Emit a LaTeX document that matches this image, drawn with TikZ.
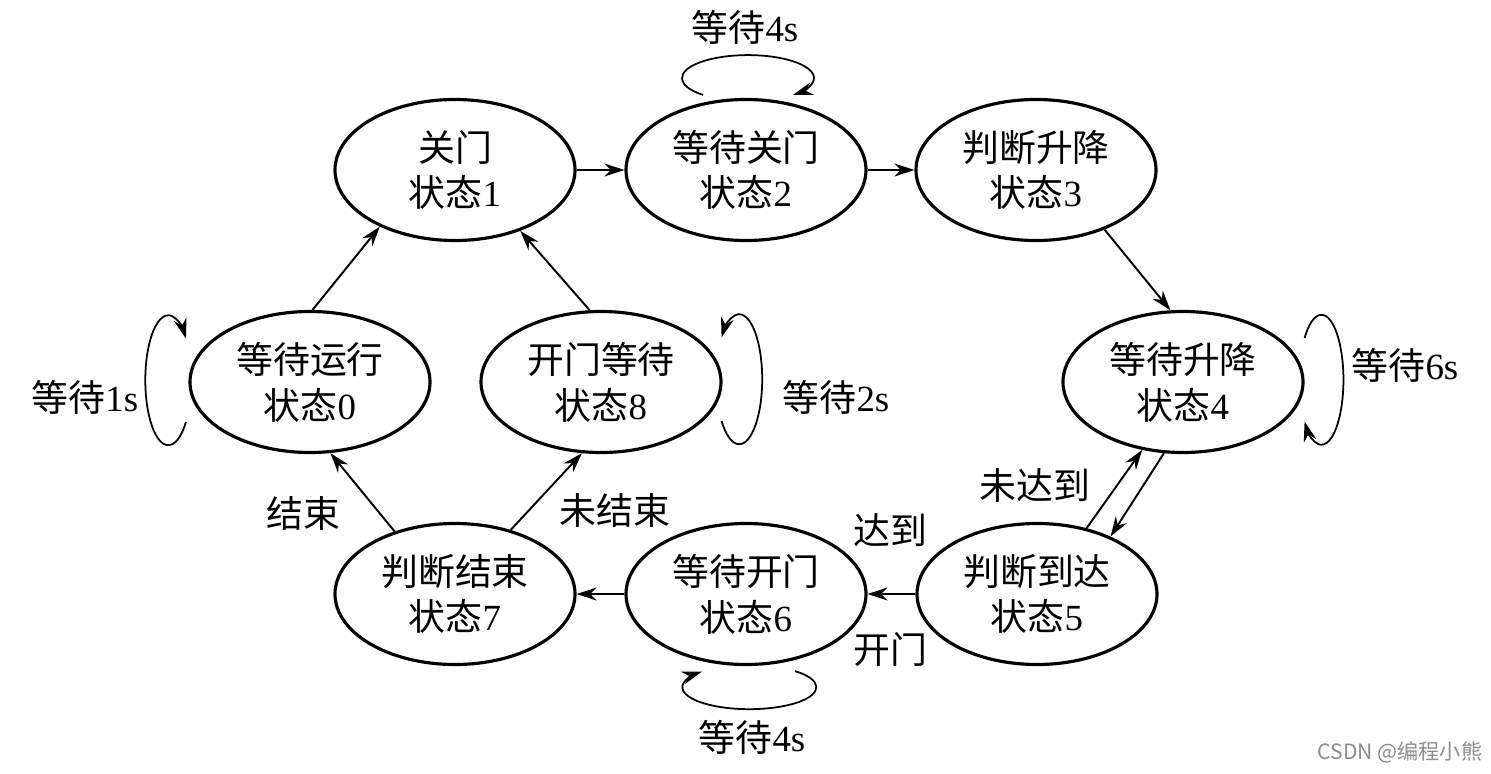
\documentclass[tikz,border=0pt]{standalone}
\usepackage{fontspec}
\setmainfont{Liberation Serif}
\newfontfamily\cjk{Noto Sans CJK SC}
\usetikzlibrary{shapes.geometric,arrows.meta}

\tikzset{
  stnode/.style={draw, ellipse, line width=1.8pt, minimum width=4.8cm, minimum height=2.82cm,
    inner sep=0pt, align=center, font=\fontsize{21}{26}\selectfont},
  lbl/.style={font=\fontsize{21}{26}\selectfont, inner sep=0pt},
  trans/.style={-{Stealth[length=4mm,width=2.6mm]}, line width=1.1pt},
  waitloop/.style={-{Stealth[length=4mm,width=2.6mm]}, line width=1pt},
}

\begin{document}
\begin{tikzpicture}
\useasboundingbox (0,0) rectangle (29.82,15.46);

% states
\node[stnode] (s1) at (9.1,12.06) {{\cjk 关门}\\{\cjk 状态}1};
\node[stnode] (s2) at (14.92,12.06) {{\cjk 等待关门}\\{\cjk 状态}2};
\node[stnode] (s3) at (20.72,12.06) {{\cjk 判断升降}\\{\cjk 状态}3};
\node[stnode] (s0) at (6.2,7.82) {{\cjk 等待运行}\\{\cjk 状态}0};
\node[stnode] (s8) at (12.02,7.82) {{\cjk 开门等待}\\{\cjk 状态}8};
\node[stnode] (s4) at (23.66,7.82) {{\cjk 等待升降}\\{\cjk 状态}4};
\node[stnode] (s7) at (9.1,3.58) {{\cjk 判断结束}\\{\cjk 状态}7};
\node[stnode] (s6) at (14.92,3.58) {{\cjk 等待开门}\\{\cjk 状态}6};
\node[stnode] (s5) at (20.74,3.58) {{\cjk 判断到达}\\{\cjk 状态}5};

% transitions
\draw[trans] (s1) -- (s2);
\draw[trans] (s2) -- (s3);
\draw[trans] (s3.-41) -- (s4.100);
\draw[trans] (s5.53) -- (s4.-121);
\draw[trans] (s4.-105) -- (s5.38);
\draw[trans] (s5) -- (s6);
\draw[trans] (s6) -- (s7);
\draw[trans] (s7.134) -- (s0.-74);
\draw[trans] (s7.49) -- (s8.-105);
\draw[trans] (s0.88) -- (s1.-143);
\draw[trans] (s8.99) -- (s1.-43);

% waiting loops
\draw[waitloop] ([shift={(-0.86,0.06)}]s2.north) arc[start angle=227, end angle=-47, x radius=1.32cm, y radius=0.46cm];
\draw[waitloop] ([shift={(-0.05,-0.8)}]s0.west) arc[start angle=-40, end angle=-320, x radius=0.46cm, y radius=1.3cm];
\draw[waitloop] ([shift={(-0.02,-0.78)}]s8.east) arc[start angle=220, end angle=500, x radius=0.46cm, y radius=1.3cm];
\draw[waitloop] ([shift={(0,0.88)}]s4.east) arc[start angle=140, end angle=-140, x radius=0.44cm, y radius=1.3cm];
\draw[waitloop] ([shift={(0.98,-0.1)}]s6.south) arc[start angle=47, end angle=-225, x radius=1.34cm, y radius=0.44cm];

% labels
\node[lbl] (w2) at (14.9,14.92) {{\cjk 等待}4s};
\node[lbl] (w0) at (1.7,7.52) {{\cjk 等待}1s};
\node[lbl] (w8) at (16.72,7.52) {{\cjk 等待}2s};
\node[lbl] (w4) at (28.1,8.16) {{\cjk 等待}6s};
\node[lbl] (w6) at (15.04,0.72) {{\cjk 等待}4s};
\node[lbl] (notreach) at (20.7,5.76) {\cjk 未达到};
\node[lbl] (reach) at (17.8,4.86) {\cjk 达到};
\node[lbl] (open) at (17.8,2.46) {\cjk 开门};
\node[lbl] (done) at (6.06,5.2) {\cjk 结束};
\node[lbl] (notdone) at (12.3,5.26) {\cjk 未结束};

\node[font=\cjk\fontsize{12}{14}\selectfont, text=black!45, inner sep=0pt] (mark) at (28.0,0.42) {CSDN @编程小熊};
\end{tikzpicture}
\end{document}
